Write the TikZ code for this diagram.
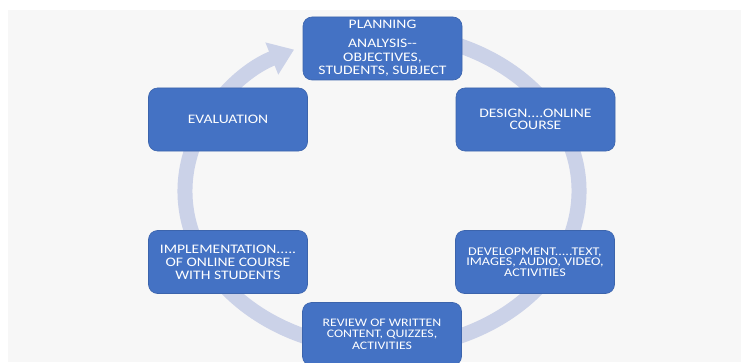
\documentclass[tikz,border=0pt]{standalone}
\usepackage{fontspec}
\setmainfont{Carlito}
\newfontfamily\boxfont[FakeStretch=1.2]{Carlito}
\usetikzlibrary{arrows.meta}
\definecolor{pagegray}{HTML}{F7F7F7}
\definecolor{ringblue}{HTML}{CBD2E8}
\definecolor{boxblue}{HTML}{4472C4}
\tikzset{
  stage/.style={draw=boxblue!88!black, line width=0.6pt, fill=boxblue,
    rounded corners=9pt, minimum width=159pt, minimum height=63pt,
    inner sep=2pt, align=center, text=white},
  bigtext/.style={font=\boxfont\fontsize{13}{13}\selectfont},
  midtext/.style={font=\boxfont\fontsize{12}{11.5}\selectfont},
}

\begin{document}
\begin{tikzpicture}[x=1pt,y=1pt]
			%%%%% START %%%%%
			
			\clip (0,0) rectangle (741,362);
			\useasboundingbox (0,0) rectangle (741,362);
			\fill[pagegray] (8,0) rectangle (741,352);
			
			\coordinate (hub) at (382,171);
			\draw[ringblue, line width=15pt, -{Triangle[width=33pt,length=24pt]}]
				([shift={(80:197 and 158)}]hub) arc[start angle=80, end angle=-243.5, x radius=197pt, y radius=158pt];
			
			\node[stage, bigtext, font=\boxfont\fontsize{13}{13.7}\selectfont] (planning) at (382.5,313.5)
				{PLANNING\\[5pt]ANALYSIS-{}-\\OBJECTIVES,\\STUDENTS, SUBJECT};
			\node[stage, bigtext, font=\boxfont\fontsize{13}{11.7}\selectfont] (design) at (535.5,242.5)
				{DESIGN....ONLINE\\COURSE};
			\node[stage, midtext, font=\boxfont\fontsize{11.8}{10.3}\selectfont] (development) at (535,100)
				{DEVELOPMENT.....TEXT,\\IMAGES, AUDIO, VIDEO,\\ACTIVITIES};
			\node[stage, midtext, font=\boxfont\fontsize{11.5}{11.5}\selectfont] (review) at (382,28)
				{REVIEW OF WRITTEN\\CONTENT, QUIZZES,\\ACTIVITIES};
			\node[stage, bigtext] (implementation) at (228,100)
				{IMPLEMENTATION.....\\OF ONLINE COURSE\\WITH STUDENTS};
			\node[stage, bigtext] (evaluation) at (228,242.5)
				{EVALUATION};
			
			%%%%% END %%%%%
\end{tikzpicture}
\end{document}
